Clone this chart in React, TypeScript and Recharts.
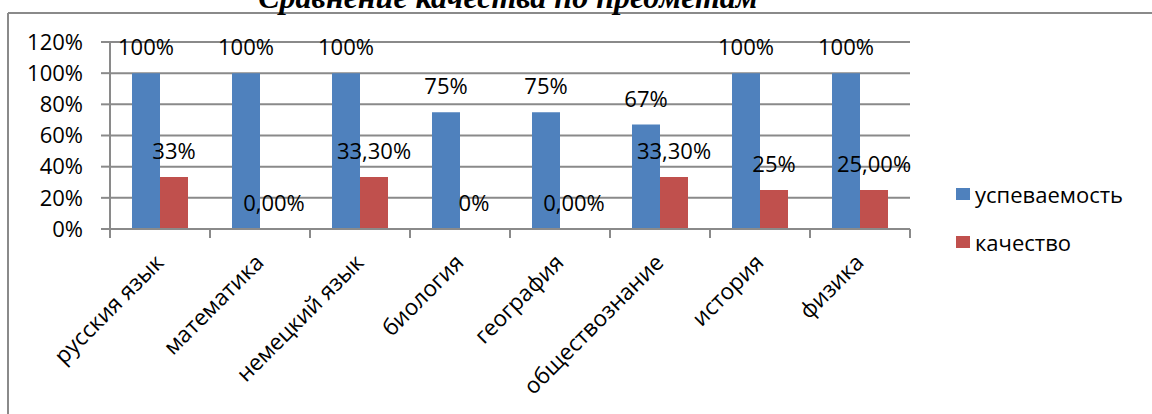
import { BarChart, Bar, XAxis, YAxis, CartesianGrid, Legend, LabelList } from "recharts";

const subjects = [
  "русския язык",
  "математика",
  "немецкий язык",
  "биология",
  "география",
  "обществознание",
  "история",
  "физика",
];
const seriesNames = ["успеваемость", "качество"];
const progress = [100, 100, 100, 75, 75, 67, 100, 100];
const quality = [33.3, 0, 33.3, 0, 0, 33.3, 25, 25];
const progressLabels = ["100%", "100%", "100%", "75%", "75%", "67%", "100%", "100%"];
const qualityLabels = ["33%", "0,00%", "33,30%", "0%", "0,00%", "33,30%", "25%", "25,00%"];
const yTicks = [0, 20, 40, 60, 80, 100, 120];

const TITLE = "Сравнение качества по предметам";
const BLUE = "#4f81bd";
const RED = "#c0504d";
const GRID = "#8a8a8a";
const FONT = "'Open Sans', 'Noto Sans', sans-serif";

const rows = subjects.map((name, i) => ({
  name,
  progress: progress[i],
  quality: quality[i],
  progressLabel: progressLabels[i],
  qualityLabel: qualityLabels[i],
}));

// Excel puts the category ticks between the groups, not under them
function SubjectTick(props: any) {
  const { x, y, payload, index, visibleTicksCount } = props;
  const half = payload?.offset || 50;
  const tx = x + 5;
  const ty = y + 26;
  return (
    <g>
      <line x1={x - half} x2={x - half} y1={y - 9} y2={y} stroke={GRID} strokeWidth={2} />
      {index === visibleTicksCount - 1 && (
        <line x1={x + half} x2={x + half} y1={y - 9} y2={y} stroke={GRID} strokeWidth={2} />
      )}
      <text
        x={tx}
        y={ty}
        transform={`rotate(-45 ${tx} ${ty})`}
        textAnchor="end"
        fontSize={22.5}
        fontFamily={FONT}
        fill="#000"
      >
        {payload.value}
      </text>
    </g>
  );
}

function LegendList(props: any) {
  const items = [...(props.payload ?? [])].sort(
    (a: any, b: any) => seriesNames.indexOf(a.value) - seriesNames.indexOf(b.value)
  );
  return (
    <div style={{ fontFamily: FONT, fontSize: 22, color: "#000" }}>
      {items.map((entry: any) => (
        <div key={entry.value} style={{ display: "flex", alignItems: "center", height: 48 }}>
          <span style={{ width: 14, height: 12, background: entry.color, marginRight: 5 }} />
          {entry.value}
        </div>
      ))}
    </div>
  );
}

export default function App() {
  return (
    <div style={{ position: "absolute", left: 0, top: 0, width: 1152, height: 414, background: "#fff" }}>
      <svg width={1152} height={414} style={{ position: "absolute", left: 0, top: 0 }}>
        <line x1={8} x2={1152} y1={13} y2={13} stroke={GRID} strokeWidth={2} />
        <line x1={8} x2={8} y1={13} y2={414} stroke={GRID} strokeWidth={2} />
        <text
          x={508}
          y={8}
          textAnchor="middle"
          fontFamily="'Liberation Serif', serif"
          fontWeight="bold"
          fontStyle="italic"
          fontSize={32}
          fill="#000"
        >
          {TITLE}
        </text>
      </svg>
      <div style={{ position: "absolute", left: 0, top: 0 }}>
        <BarChart
          width={1152}
          height={414}
          data={rows}
          margin={{ top: 42, right: 242, bottom: 0, left: 0 }}
          barCategoryGap="22%"
          barGap={0}
        >
          <CartesianGrid vertical={false} stroke={GRID} strokeWidth={2} />
          <XAxis
            dataKey="name"
            interval={0}
            height={185}
            tickSize={9}
            tickMargin={0}
            tickLine={false}
            axisLine={{ stroke: GRID, strokeWidth: 2 }}
            tick={<SubjectTick />}
          />
          <YAxis
            type="number"
            domain={[0, 120]}
            ticks={yTicks}
            interval={0}
            width={110}
            tickSize={9}
            tickMargin={18}
            tickFormatter={(v: number) => `${v}%`}
            tick={{ fontSize: 22, fill: "#000", fontFamily: FONT }}
            axisLine={{ stroke: GRID, strokeWidth: 2 }}
            tickLine={{ stroke: GRID, strokeWidth: 2 }}
          />
          <Legend
            layout="vertical"
            align="center"
            verticalAlign="middle"
            wrapperStyle={{ left: 956, top: 170, width: 190 }}
            content={<LegendList />}
          />
          <Bar dataKey="progress" name={seriesNames[0]} fill={BLUE} isAnimationActive={false}>
            <LabelList dataKey="progressLabel" position="top" offset={18} fontSize={22} fill="#000" fontFamily={FONT} />
          </Bar>
          <Bar dataKey="quality" name={seriesNames[1]} fill={RED} minPointSize={0.01} isAnimationActive={false}>
            <LabelList dataKey="qualityLabel" position="top" offset={18} fontSize={22} fill="#000" fontFamily={FONT} />
          </Bar>
        </BarChart>
      </div>
    </div>
  );
}
